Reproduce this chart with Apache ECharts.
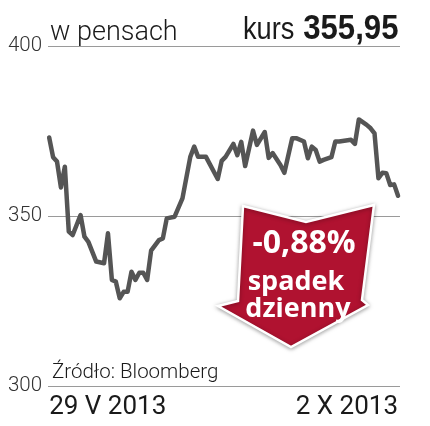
<!DOCTYPE html>
<html><head><meta charset="utf-8">
<script src="https://cdn.jsdelivr.net/npm/echarts@6/dist/echarts.min.js"></script>
<style>html,body{margin:0;padding:0;background:#fff}#c{width:430px;height:426px}</style>
</head><body><div id="c"></div>
<script>
// trading day index since 29 V 2013
const days = [0,1,2,3,4,5,6,8,9,10,12,14,15,16,17,18,19,20,21,22,23,24,25,26,28,29,30,32,34,36,37,38,40,43,44,45,47,48,49,50,52,53,55,56,57,59,60,62,63,65,66,67,68,69,70,72,73,74,77,78,79,81,82,83,84,85,86,87,88,89];
const prices = [373.1,367.3,366.0,358.4,364.5,345.4,344.4,350.3,343.9,342.4,336.6,336.1,344.9,331.2,330.7,325.8,327.7,327.7,333.6,331.2,333.3,333.3,331.2,339.8,342.9,343.4,349.3,349.8,355.2,367.4,370.4,367.4,367.4,360.9,366.2,367.4,371.2,367.9,371.8,364.7,375.1,370.9,374.7,367.1,368.5,365.0,362.7,372.9,372.9,371.9,367.0,370.4,369.4,366.0,366.5,367.3,371.9,371.9,372.4,371.2,378.4,376.8,375.8,374.3,361.1,362.7,362.6,359.1,359.3,355.95];
const yTicks = [300, 350, 400];
const dateLabels = ['29 V 2013', '2 X 2013'];
const dateTickDays = [0, 89];
const unitLabel = 'w pensach';
const lastLabel = 'kurs';
const lastValue = '355,95';
const sourceLabel = 'Źródło: Bloomberg';
const badgeLines = ['-0,88%', 'spadek', 'dzienny'];

const chart = echarts.init(document.getElementById('c'), null, {renderer: 'canvas'});
chart.setOption({
  animation: false,
  grid: {left: 48, right: 30, top: 46, bottom: 40},
  xAxis: {
    type: 'value', min: -0.3, max: 89.5,
    axisLine: {show: false}, axisTick: {show: false}, splitLine: {show: false},
    axisLabel: {
      customValues: dateTickDays,
      alignMinLabel: 'left', alignMaxLabel: 'right',
      formatter: v => dateLabels[dateTickDays.indexOf(Math.round(v))] || '',
      fontFamily: 'Roboto', fontSize: 26, color: '#1a1a1a', margin: 8
    }
  },
  yAxis: {
    type: 'value', min: 300, max: 400, interval: 50,
    axisLine: {show: false}, axisTick: {show: false},
    splitLine: {lineStyle: {color: '#9a9a9a', width: 1}},
    axisLabel: {
      customValues: yTicks,
      fontFamily: 'Roboto', fontWeight: 300, fontSize: 20.5, color: '#333', margin: 6,
      padding: [7, 0, 0, 0]
    }
  },
  series: [{
    type: 'line', data: days.map((d, i) => [d, prices[i]]),
    showSymbol: false, symbol: 'none',
    lineStyle: {color: '#555555', width: 4.5, join: 'round', cap: 'round'}
  }],
  graphic: [
    {type: 'text', x: 50, y: 33, style: {text: unitLabel, fontFamily: 'Roboto', fontWeight: 300, fontSize: 27, fill: '#1a1a1a', align: 'left', verticalAlign: 'middle'}},
    {type: 'text', x: 243, y: 30, scaleX: 0.85, style: {text: lastLabel, fontFamily: 'Liberation Sans', fontSize: 32, fill: '#1a1a1a', align: 'left', verticalAlign: 'middle'}},
    {type: 'text', x: 398.5, y: 29, scaleX: 0.89, style: {text: lastValue, fontFamily: 'Liberation Sans', fontWeight: 'bold', fontSize: 35, fill: '#1a1a1a', align: 'right', verticalAlign: 'middle'}},
    {type: 'text', x: 52, y: 373, style: {text: sourceLabel, fontFamily: 'Roboto', fontWeight: 300, fontSize: 20.5, fill: '#1a1a1a', align: 'left', verticalAlign: 'middle'}},
    {type: 'polygon', z: 10,
      shape: {points: [[243,206],[306,222],[374,205],[362,300],[368,305],[291,347],[218,306],[238,301]]},
      style: {fill: '#b01230', stroke: '#ffffff', lineWidth: 2.5, shadowBlur: 4, shadowColor: 'rgba(0,0,0,0.35)', shadowOffsetY: 1}
    },
    {type: 'text', z: 11, x: 304, y: 244, style: {text: badgeLines[0], fontFamily: 'Open Sans', fontWeight: 'bold', fontSize: 32, fill: '#fff', align: 'center', verticalAlign: 'middle'}},
    {type: 'text', z: 11, x: 296, y: 282, style: {text: badgeLines[1], fontFamily: 'Open Sans', fontWeight: 'bold', fontSize: 27, fill: '#fff', align: 'center', verticalAlign: 'middle'}},
    {type: 'text', z: 11, x: 298, y: 309, style: {text: badgeLines[2], fontFamily: 'Open Sans', fontWeight: 'bold', fontSize: 27, fill: '#fff', align: 'center', verticalAlign: 'middle'}}
  ]
});
</script></body></html>
